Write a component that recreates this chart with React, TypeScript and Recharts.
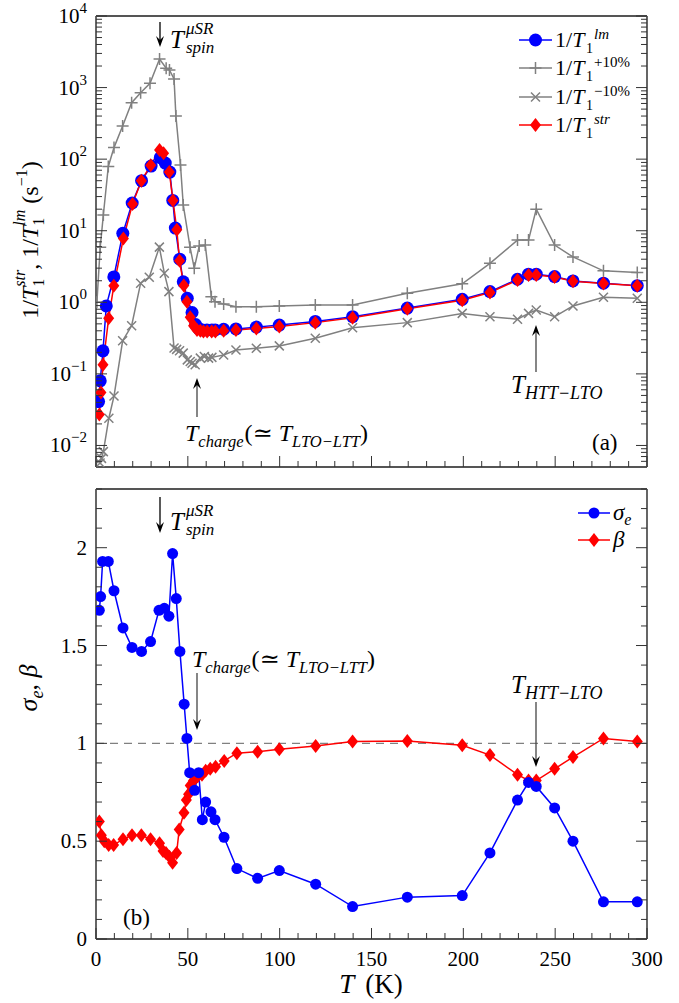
import React from 'react';
import { LineChart, Line, XAxis, YAxis, ReferenceLine } from 'recharts';

// ---------- data: panel (a) ----------
const lmT = [1.4, 2.3, 3.8, 5.6, 9.7, 14.6, 19.7, 24.8, 30, 35, 37.7, 40.2, 41.8, 43.2, 45.6, 47.5, 49.7, 52.3, 54.2, 55.9, 58, 60.4, 63.1, 64.9, 69.5, 76.2, 87.3, 99.8, 119.4, 139.7, 169.5, 199.4, 214.5, 229.5, 235.5, 239.7, 249.7, 259.7, 276.3, 294.7];
const lmV = [0.041, 0.08, 0.21, 0.89, 2.26, 9.2, 24.4, 50, 80, 105, 88, 66, 26.5, 10.9, 4.0, 1.93, 1.14, 0.72, 0.49, 0.43, 0.41, 0.41, 0.41, 0.41, 0.42, 0.425, 0.45, 0.48, 0.54, 0.63, 0.83, 1.1, 1.41, 2.1, 2.47, 2.47, 2.29, 1.99, 1.85, 1.71];

const strT = [1.8, 2.7, 3.8, 6.9, 9.7, 14.9, 19.9, 24.7, 29.8, 34.6, 36.8, 39.9, 41.9, 44, 45.5, 47.8, 49.5, 51.3, 53.1, 55, 56.8, 58.5, 60.5, 63, 65, 69.5, 76.2, 87.3, 99.8, 119.4, 139.7, 169.5, 199.4, 214.5, 229.5, 235.5, 239.7, 249.7, 259.7, 276.3, 294.7];
const strV = [0.027, 0.055, 0.134, 0.6, 1.7, 7.8, 23.7, 50, 82, 134, 121, 66, 26.5, 10.3, 3.8, 1.72, 1.02, 0.62, 0.47, 0.41, 0.4, 0.39, 0.39, 0.39, 0.39, 0.4, 0.41, 0.43, 0.46, 0.52, 0.61, 0.81, 1.07, 1.37, 2.05, 2.4, 2.4, 2.25, 1.97, 1.83, 1.7];

const plusT = [0.5, 2.3, 4, 6.7, 9.8, 14.5, 19.4, 24.3, 29.4, 34.6, 38.2, 40, 42.5, 43.5, 46, 47.5, 51.2, 53.5, 56.2, 59.5, 62.8, 64.8, 69.5, 76.2, 87.3, 99.8, 119.4, 139.7, 169.5, 199.4, 214.5, 229.5, 235.5, 239.7, 249.7, 259.7, 276.3, 294.7];
const plusV = [1.0, 5.9, 16.6, 79, 145, 291, 615, 849, 1148, 2508, 1862, 1762, 1318, 401, 83, 22.9, 5.9, 3.0, 6.1, 6.3, 1.2, 1.02, 0.95, 0.87, 0.87, 0.89, 0.92, 0.92, 1.34, 1.81, 3.5, 7.4, 7.4, 20, 6.3, 4.3, 2.75, 2.6];

const minusT = [2.2, 3.0, 4.0, 7.0, 9.8, 14.5, 19.4, 24.3, 29, 34.5, 37.2, 39.7, 42.5, 43.9, 45.5, 47.5, 49.7, 51.3, 52.3, 54, 56.8, 59, 61.3, 63.1, 69.5, 76.2, 87.3, 99.8, 119.4, 139.7, 169.5, 199.4, 214.5, 229.5, 235.5, 239.7, 249.7, 259.7, 276.3, 294.7];
const minusV = [0.0057, 0.0066, 0.0082, 0.024, 0.049, 0.29, 0.47, 1.85, 2.24, 5.9, 2.55, 1.41, 0.23, 0.22, 0.21, 0.195, 0.157, 0.149, 0.141, 0.134, 0.166, 0.175, 0.166, 0.17, 0.184, 0.216, 0.228, 0.246, 0.315, 0.44, 0.52, 0.7, 0.63, 0.58, 0.7, 0.78, 0.63, 0.89, 1.18, 1.14];

// ---------- data: panel (b) ----------
const sigT = [1.8, 2.5, 3.6, 6.7, 9.8, 14.7, 19.6, 24.8, 29.7, 34.3, 37.2, 39.7, 41.7, 43.7, 45.7, 48, 49.5, 51, 53.7, 55.9, 57.9, 59.7, 62.6, 64.8, 69.7, 76.7, 88, 99.8, 119.6, 139.7, 169.5, 199.4, 214.5, 229.5, 235.5, 239.7, 249.7, 259.7, 276.3, 294.7];
const sigV = [1.68, 1.75, 1.93, 1.93, 1.78, 1.59, 1.49, 1.47, 1.52, 1.68, 1.69, 1.65, 1.97, 1.74, 1.47, 1.2, 1.025, 0.85, 0.76, 0.85, 0.61, 0.7, 0.65, 0.61, 0.52, 0.36, 0.31, 0.35, 0.28, 0.166, 0.214, 0.222, 0.44, 0.71, 0.8, 0.78, 0.67, 0.5, 0.19, 0.19];

const betaT = [1.8, 2.9, 4.5, 6.9, 9.6, 14.7, 19.6, 24.7, 29.7, 34.6, 36.5, 38.1, 40, 41.7, 43.9, 45.3, 47.9, 49.2, 50.4, 51.3, 53.1, 55.3, 57.7, 59.7, 62.2, 65.1, 69.8, 76.7, 88, 99.8, 119.6, 139.7, 169.5, 199.4, 214.5, 229.5, 235.5, 239.7, 249.7, 259.7, 276.3, 294.7];
const betaV = [0.6, 0.53, 0.5, 0.48, 0.48, 0.51, 0.53, 0.53, 0.51, 0.49, 0.45, 0.44, 0.42, 0.39, 0.44, 0.56, 0.645, 0.71, 0.74, 0.785, 0.81, 0.83, 0.84, 0.86, 0.87, 0.88, 0.91, 0.95, 0.957, 0.97, 0.986, 1.009, 1.012, 0.99, 0.94, 0.84, 0.81, 0.81, 0.87, 0.93, 1.025, 1.01];

// ---------- ticks ----------
const xTicks = [0, 10, 20, 30, 40, 50, 60, 70, 80, 90, 100, 110, 120, 130, 140, 150, 160, 170, 180, 190, 200, 210, 220, 230, 240, 250, 260, 270, 280, 290, 300];
const xMajor = [0, 50, 100, 150, 200, 250, 300];
const logMajor = [0.01, 0.1, 1, 10, 100, 1000, 10000];
const logMantissa = [1, 2, 3, 4, 5, 6, 7, 8, 9];
const logExponents = [-3, -2, -1, 0, 1, 2, 3];
const logTicks: number[] = [];
logExponents.forEach((d) => logMantissa.forEach((m) => {
  const v = Number((m * Math.pow(10, d)).toPrecision(6));
  if (v > 0.005 && v <= 10000) logTicks.push(v);
}));
logTicks.push(10000);
const linTicks = [0, 0.1, 0.2, 0.3, 0.4, 0.5, 0.6, 0.7, 0.8, 0.9, 1, 1.1, 1.2, 1.3, 1.4, 1.5, 1.6, 1.7, 1.8, 1.9, 2, 2.1, 2.2, 2.3];
const linMajor = [0, 0.5, 1, 1.5, 2];

const pts = (T: number[], V: number[]) => T.map((t, i) => ({ T: t, v: V[i] }));

const FONT = '"Liberation Serif", "DejaVu Serif", serif';
const FRAME = '#555555';
const TICK = '#333333';
const BLUE = '#0000ff';
const RED = '#ff0000';
const GRAY = '#808080';

const isIn = (arr: number[], v: number) => arr.some((a) => Math.abs(a - v) < 1e-9 * Math.max(1, Math.abs(a)));

const xTick = (side: 'top' | 'bottom', labels: boolean) => (p: any) => {
  const v = p.payload.value;
  const major = isIn(xMajor, v);
  const len = major ? 11 : 6;
  const dir = side === 'bottom' ? -1 : 1;
  return (
    <g key={`x-${side}-${v}`}>
      <line x1={p.x} x2={p.x} y1={p.y} y2={p.y + dir * len} stroke={TICK} strokeWidth={1} />
      {labels && major && (
        <text x={p.x} y={p.y + 27} textAnchor="middle" fontSize={21} fontFamily={FONT} fill="#000">{v}</text>
      )}
    </g>
  );
};

const logTick = (side: 'left' | 'right', labels: boolean) => (p: any) => {
  const v = p.payload.value;
  const major = isIn(logMajor, v);
  const len = major ? 11 : 6;
  const dir = side === 'left' ? 1 : -1;
  const exp = Math.round(Math.log10(v));
  return (
    <g key={`ly-${side}-${v}`}>
      <line x1={p.x} x2={p.x + dir * len} y1={p.y} y2={p.y} stroke={TICK} strokeWidth={1} />
      {labels && major && (
        <text x={p.x - 9} y={p.y + 7} textAnchor="end" fontSize={21} fontFamily={FONT} fill="#000">
          10<tspan fontSize={15} dy={-10}>{exp < 0 ? `\u2212${-exp}` : `${exp}`}</tspan>
        </text>
      )}
    </g>
  );
};

const linTick = (side: 'left' | 'right', labels: boolean) => (p: any) => {
  const v = p.payload.value;
  const major = isIn(linMajor, v);
  const len = major ? 11 : 6;
  const dir = side === 'left' ? 1 : -1;
  return (
    <g key={`y-${side}-${v}`}>
      <line x1={p.x} x2={p.x + dir * len} y1={p.y} y2={p.y} stroke={TICK} strokeWidth={1} />
      {labels && major && (
        <text x={p.x - 9} y={p.y + 7} textAnchor="end" fontSize={21} fontFamily={FONT} fill="#000">{v}</text>
      )}
    </g>
  );
};

const circleDot = (r: number) => (p: any) =>
  p.cx == null ? <g key={`c-${p.index}`} /> : <circle key={`c-${p.index}`} cx={p.cx} cy={p.cy} r={r} fill={BLUE} stroke="none" />;
const diamondDot = (w: number, h: number) => (p: any) =>
  p.cx == null ? <g key={`d-${p.index}`} /> : (
    <path key={`d-${p.index}`} d={`M${p.cx},${p.cy - h}L${p.cx + w},${p.cy}L${p.cx},${p.cy + h}L${p.cx - w},${p.cy}Z`} fill={RED} stroke="none" />
  );
const plusDot = (p: any) =>
  p.cx == null ? <g key={`p-${p.index}`} /> : (
    <path key={`p-${p.index}`} d={`M${p.cx - 6},${p.cy}H${p.cx + 6}M${p.cx},${p.cy - 6}V${p.cy + 6}`} stroke={GRAY} strokeWidth={1.5} fill="none" />
  );
const crossDot = (p: any) =>
  p.cx == null ? <g key={`x-${p.index}`} /> : (
    <path key={`x-${p.index}`} d={`M${p.cx - 4.5},${p.cy - 4.5}L${p.cx + 4.5},${p.cy + 4.5}M${p.cx - 4.5},${p.cy + 4.5}L${p.cx + 4.5},${p.cy - 4.5}`} stroke={GRAY} strokeWidth={1.5} fill="none" />
  );

const axisLine = { stroke: FRAME, strokeWidth: 1.8 };

const Arrow = ({ x, from, to, lineColor = '#000' }: { x: number; from: number; to: number; lineColor?: string }) => {
  const dir = to > from ? 1 : -1;
  return (
    <g>
      <line x1={x} x2={x} y1={from} y2={to - dir * 6} stroke={lineColor} strokeWidth={1.3} />
      <path d={`M${x},${to}L${x - 4},${to - dir * 11}L${x},${to - dir * 7}L${x + 4},${to - dir * 11}Z`} fill="#000" />
    </g>
  );
};

const TSpin = ({ x, y }: { x: number; y: number }) => (
  <g fontFamily={FONT} fill="#000">
    <text x={x} y={y} fontSize={25} fontStyle="italic">T</text>
    <text x={x + 16} y={y - 14} fontSize={17} fontStyle="italic">μSR</text>
    <text x={x + 16} y={y + 5} fontSize={17} fontStyle="italic">spin</text>
  </g>
);

const TCharge = ({ x, y }: { x: number; y: number }) => (
  <text x={x} y={y} fontSize={24} fontFamily={FONT} fill="#000">
    <tspan fontStyle="italic">T</tspan>
    <tspan fontSize={16.5} fontStyle="italic" dy={6}>charge</tspan>
    <tspan dy={-6} dx={1}>(≃ </tspan>
    <tspan fontStyle="italic">T</tspan>
    <tspan fontSize={16.5} fontStyle="italic" dy={6}>LTO−LTT</tspan>
    <tspan dy={-6}>)</tspan>
  </text>
);

const THtt = ({ x, y }: { x: number; y: number }) => (
  <text x={x} y={y} fontSize={25} fontFamily={FONT} fill="#000">
    <tspan fontStyle="italic">T</tspan>
    <tspan fontSize={18} fontStyle="italic" dy={6}>HTT−LTO</tspan>
  </text>
);

// legend label 1/T_1^{sup}: the subscript and superscript sit side by side so no text overlaps
const LegendT1 = ({ c, sup, italicSup }: { c: number; sup: string; italicSup: boolean }) => (
  <g fontFamily={FONT} fill="#000">
    <text x={555} y={c + 7} fontSize={22}>
      1/<tspan fontStyle="italic">T</tspan>
    </text>
    <text x={586} y={c + 13} fontSize={14}>1</text>
    <text x={594} y={c - 1} fontSize={15} fontStyle={italicSup ? 'italic' : 'normal'}>{sup}</text>
  </g>
);

export default function App() {
  const lmData = pts(lmT, lmV);
  const strData = pts(strT, strV);
  const plusData = pts(plusT, plusV);
  const minusData = pts(minusT, minusV);
  const sigData = pts(sigT, sigV);
  const betaData = pts(betaT, betaV);

  return (
    <div style={{ position: 'absolute', left: 0, top: 0, width: 679, height: 1003, background: '#fff' }}>
      <div style={{ position: 'absolute', left: 0, top: 0 }}>
        <LineChart width={679} height={480} margin={{ top: 15, right: 31, bottom: 12, left: 95 }}>
          <XAxis xAxisId="b" orientation="bottom" type="number" dataKey="T" domain={[0, 300]} ticks={xTicks} interval={0} height={1} tickSize={0} tickMargin={0} tickLine={false} axisLine={axisLine} tick={xTick('bottom', false)} allowDataOverflow />
          <XAxis xAxisId="t" orientation="top" type="number" domain={[0, 300]} ticks={xTicks} interval={0} height={1} tickSize={0} tickMargin={0} tickLine={false} axisLine={axisLine} tick={xTick('top', false)} allowDataOverflow />
          <YAxis yAxisId="l" orientation="left" type="number" scale="log" domain={[0.005, 10000]} ticks={logTicks} interval={0} width={1} tickSize={0} tickMargin={0} tickLine={false} axisLine={axisLine} tick={logTick('left', true)} allowDataOverflow />
          <YAxis yAxisId="r" orientation="right" type="number" scale="log" domain={[0.005, 10000]} ticks={logTicks} interval={0} width={1} tickSize={0} tickMargin={0} tickLine={false} axisLine={axisLine} tick={logTick('right', false)} allowDataOverflow />
          <Line xAxisId="b" yAxisId="l" data={lmData} dataKey="v" stroke={BLUE} strokeWidth={1.5} dot={circleDot(6.5)} activeDot={false} isAnimationActive={false} />
          <Line xAxisId="b" yAxisId="l" data={plusData} dataKey="v" stroke={GRAY} strokeWidth={1.5} dot={plusDot} activeDot={false} isAnimationActive={false} />
          <Line xAxisId="b" yAxisId="l" data={minusData} dataKey="v" stroke={GRAY} strokeWidth={1.5} dot={crossDot} activeDot={false} isAnimationActive={false} />
          <Line xAxisId="b" yAxisId="l" data={strData} dataKey="v" stroke={RED} strokeWidth={1.5} dot={diamondDot(5.5, 7)} activeDot={false} isAnimationActive={false} />
        </LineChart>
      </div>
      <div style={{ position: 'absolute', left: 0, top: 480 }}>
        <LineChart width={679} height={523} margin={{ top: 8, right: 31, bottom: 63, left: 95 }}>
          <XAxis xAxisId="b" orientation="bottom" type="number" dataKey="T" domain={[0, 300]} ticks={xTicks} interval={0} height={1} tickSize={0} tickMargin={0} tickLine={false} axisLine={axisLine} tick={xTick('bottom', true)} allowDataOverflow />
          <XAxis xAxisId="t" orientation="top" type="number" domain={[0, 300]} ticks={xTicks} interval={0} height={1} tickSize={0} tickMargin={0} tickLine={false} axisLine={axisLine} tick={xTick('top', false)} allowDataOverflow />
          <YAxis yAxisId="l" orientation="left" type="number" domain={[0, 2.3]} ticks={linTicks} interval={0} width={1} tickSize={0} tickMargin={0} tickLine={false} axisLine={axisLine} tick={linTick('left', true)} allowDataOverflow />
          <YAxis yAxisId="r" orientation="right" type="number" domain={[0, 2.3]} ticks={linTicks} interval={0} width={1} tickSize={0} tickMargin={0} tickLine={false} axisLine={axisLine} tick={linTick('right', false)} allowDataOverflow />
          <ReferenceLine xAxisId="b" yAxisId="l" y={1} stroke={GRAY} strokeWidth={1.3} strokeDasharray="8 6" />
          <Line xAxisId="b" yAxisId="l" data={betaData} dataKey="v" stroke={RED} strokeWidth={1.5} dot={diamondDot(5.5, 7)} activeDot={false} isAnimationActive={false} />
          <Line xAxisId="b" yAxisId="l" data={sigData} dataKey="v" stroke={BLUE} strokeWidth={1.5} dot={circleDot(5.5)} activeDot={false} isAnimationActive={false} />
        </LineChart>
      </div>
      <svg width={679} height={1003} style={{ position: 'absolute', left: 0, top: 0, pointerEvents: 'none' }}>
        {/* axis titles */}
        <text transform="translate(38,240) rotate(-90)" textAnchor="middle" fontSize={24} fontFamily={FONT} fill="#000">
          1/<tspan fontStyle="italic">T</tspan>
          <tspan fontSize={16} dy={6}>1</tspan>
          <tspan fontSize={16} fontStyle="italic" dx={-8} dy={-19}>str</tspan>
          <tspan dy={13}>, 1/</tspan>
          <tspan fontStyle="italic">T</tspan>
          <tspan fontSize={16} dy={6}>1</tspan>
          <tspan fontSize={16} fontStyle="italic" dx={-8} dy={-19}>lm</tspan>
          <tspan dy={13}> (s</tspan>
          <tspan fontSize={16} dy={-11}>−1</tspan>
          <tspan dy={11}>)</tspan>
        </text>
        <text transform="translate(37,688) rotate(-90)" textAnchor="middle" fontSize={26} fontFamily={FONT} fill="#000">
          <tspan fontStyle="italic">σ</tspan>
          <tspan fontSize={18} fontStyle="italic" dy={6}>e</tspan>
          <tspan dy={-6}>, </tspan>
          <tspan fontStyle="italic">β</tspan>
        </text>
        <text x={371} y={993} textAnchor="middle" fontSize={27} fontFamily={FONT} fill="#000">
          <tspan fontStyle="italic">T</tspan><tspan dx={4}> (K)</tspan>
        </text>

        {/* panel (a) annotations */}
        <Arrow x={160} from={22} to={47} />
        <TSpin x={170} y={48} />
        <Arrow x={197} from={417} to={378} lineColor="#444" />
        <TCharge x={185} y={441} />
        <Arrow x={536} from={372} to={325} lineColor="#444" />
        <THtt x={511} y={393} />
        <text x={592} y={450} fontSize={23} fontFamily={FONT} fill="#000">(a)</text>

        {/* panel (a) legend */}
        <line x1={519} x2={552} y1={40} y2={40} stroke={BLUE} strokeWidth={1.5} />
        <circle cx={535.5} cy={40} r={6.5} fill={BLUE} />
        <LegendT1 c={40} sup="lm" italicSup={true} />
        <line x1={519} x2={552} y1={68} y2={68} stroke={GRAY} strokeWidth={1.5} />
        <path d="M529.5,68H541.5M535.5,62V74" stroke={GRAY} strokeWidth={1.5} />
        <LegendT1 c={68} sup="+10%" italicSup={false} />
        <line x1={519} x2={552} y1={97} y2={97} stroke={GRAY} strokeWidth={1.5} />
        <path d="M531,92.5L540,101.5M531,101.5L540,92.5" stroke={GRAY} strokeWidth={1.5} />
        <LegendT1 c={97} sup="−10%" italicSup={false} />
        <line x1={519} x2={552} y1={125} y2={125} stroke={RED} strokeWidth={1.5} />
        <path d="M535.5,118L541,125L535.5,132L530,125Z" fill={RED} />
        <LegendT1 c={125} sup="str" italicSup={true} />

        {/* panel (b) annotations */}
        <Arrow x={160} from={497} to={533} />
        <TSpin x={170} y={530} />
        <THtt x={511} y={693} />
        <Arrow x={536} from={702} to={767} lineColor="#444" />
        <TCharge x={192} y={667} />
        <Arrow x={197} from={673} to={730} lineColor="#444" />
        <text x={123} y={925} fontSize={23} fontFamily={FONT} fill="#000">(b)</text>

        {/* panel (b) legend */}
        <line x1={578} x2={610} y1={513} y2={513} stroke={BLUE} strokeWidth={1.5} />
        <circle cx={594} cy={513} r={5.5} fill={BLUE} />
        <text x={613} y={520} fontSize={23} fontFamily={FONT} fill="#000">
          <tspan fontStyle="italic">σ</tspan>
          <tspan fontSize={16} fontStyle="italic" dy={5}>e</tspan>
        </text>
        <line x1={578} x2={610} y1={540} y2={540} stroke={RED} strokeWidth={1.5} />
        <path d="M594,533L599.5,540L594,547L588.5,540Z" fill={RED} />
        <text x={613} y={547} fontSize={23} fontFamily={FONT} fontStyle="italic" fill="#000">β</text>
      </svg>
    </div>
  );
}
